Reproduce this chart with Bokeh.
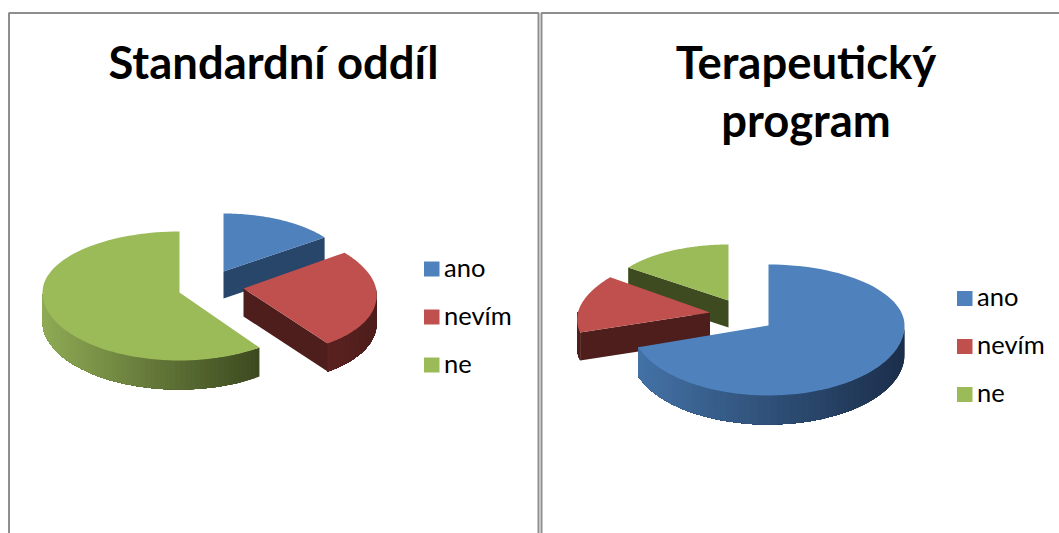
import math
from bokeh.plotting import figure
from bokeh.models import Range1d
from bokeh.core.properties import value
from bokeh.embed import file_html
from bokeh.resources import INLINE

# ---- data -------------------------------------------------------------
categories = ["ano", "nevím", "ne"]
standard_values = [15, 25, 60]      # Standardní oddíl, %
therapy_values = [70, 15, 15]       # Terapeutický program, %
chart_titles = [["Standardní oddíl"], ["Terapeutický", "program"]]

# ---- styles -----------------------------------------------------------
top_colors = ["#4f81bd", "#c0504d", "#9bbb59"]
wall_colors = [("#4472a6", "#1b2f4b"), ("#5a2220", "#4e1e1c"), ("#8fab55", "#3d4a20")]
flat_walls = ["#28456a", "#4e1e1c", "#3e4b20"]
BORDER = "#8e8e8e"
TEXT = "#000000"

# layout of every exploded slice: apex x, y, right/left half-width,
# top/bottom half-height, perspective, thickness (page pixels)
standard_layout = [
    (223, 271, 125, 125, 58, 58, 0.0, 27),
    (243, 288, 132.5, 132.5, 61, 68, 0.10, 28),
    (179, 292, 136, 137, 61, 68, 0.0, 29),
]
therapy_layout = [
    (768, 325, 136, 137, 61, 70, 0.0, 29),
    (709.5, 312, 132, 132, 60, 65, 0.112, 28),
    (728, 300, 124, 124, 56, 56, 0.0, 27),
]
standard_order = [0, 2, 1]
therapy_order = [2, 1, 0]

p = figure(width=1059, height=533, x_range=Range1d(0, 1059), y_range=Range1d(533, 0),
           x_axis_type=None, y_axis_type=None, toolbar_location=None,
           output_backend="svg", min_border=0, outline_line_color=None,
           background_fill_color="white", border_fill_color="white")
p.grid.visible = False


def rim(theta, cfg):
    cx, cy, ar, al, bt, bb, k, _ = cfg
    s, c = math.sin(theta), math.cos(theta)
    a = ar if s >= 0 else al
    b = bt if c >= 0 else bb
    return cx + a * s * (1 - k * c), cy - b * c


def lerp_hex(c1, c2, t):
    t = max(0.0, min(1.0, t))
    v1 = [int(c1[i:i + 2], 16) for i in (1, 3, 5)]
    v2 = [int(c2[i:i + 2], 16) for i in (1, 3, 5)]
    return "#%02x%02x%02x" % tuple(round(a + (b - a) * t) for a, b in zip(v1, v2))


def patch(xs, ys, color):
    p.patch(xs, ys, fill_color=color, line_color=None)


def draw_pie(values, layout, order):
    total = sum(values)
    edges = [0.0]
    for v in values:
        edges.append(edges[-1] + v / total * 2 * math.pi)
    for i in order:
        cfg = layout[i]
        t1, t2 = edges[i], edges[i + 1]
        cx, cy, d = cfg[0], cfg[1], cfg[7]
        # flat cut faces that look toward the viewer
        for t, normal in ((t1, t1 - math.pi / 2), (t2, t2 + math.pi / 2)):
            if math.cos(normal) < -0.05:
                rx, ry = rim(t, cfg)
                patch([cx, rx, rx, cx], [cy, ry, ry + d, cy + d], flat_walls[i])
        # outer wall: overlapping bands so that no seams show between them
        lo, hi = max(t1, math.pi / 2), min(t2, 3 * math.pi / 2)
        if hi > lo:
            n = 60
            ts = [lo + (hi - lo) * j / n for j in range(n + 1)]
            pts = [rim(t, cfg) for t in ts]
            xmin = min(q[0] for q in pts)
            xmax = max(q[0] for q in pts)
            for j in range(n):
                seg = pts[j:]
                mid = (pts[j][0] - xmin) / max(xmax - xmin, 1)
                patch([q[0] for q in seg] + [q[0] for q in reversed(seg)],
                      [q[1] for q in seg] + [q[1] + d for q in reversed(seg)],
                      lerp_hex(wall_colors[i][0], wall_colors[i][1], mid))
        # top face
        n = 90
        top = [rim(t1 + (t2 - t1) * j / n, cfg) for j in range(n + 1)]
        patch([cx] + [q[0] for q in top], [cy] + [q[1] for q in top], top_colors[i])


draw_pie(standard_values, standard_layout, standard_order)
draw_pie(therapy_values, therapy_layout, therapy_order)

# frames of both table cells
for xs, ys in (
    ([8.5, 8.5, 538, 538], [533, 12.5, 12.5, 533]),
    ([541, 541, 1059], [533, 12.5, 12.5]),
):
    p.line(xs, ys, line_color=BORDER, line_width=2)

# titles
FONT = value("Lato")
for lines, cx in zip(chart_titles, (273, 805.5)):
    for j, line in enumerate(lines):
        p.text([cx], [60.5 + 58 * j], text=[line], text_font=FONT, text_font_style="bold",
               text_font_size="45.4px", text_color=TEXT, text_align="center",
               text_baseline="alphabetic")

# legends
for lx, ly0 in ((423.5, 268.5), (956.5, 298)):
    for j, name in enumerate(categories):
        yc = ly0 + 48 * j
        p.quad(left=[lx], right=[lx + 15.5], top=[yc - 7.5], bottom=[yc + 7.5],
               fill_color=top_colors[j], line_color=None)
        p.text([lx + 20], [yc - 2.5], text=[name], text_font=FONT, text_font_size="25.5px",
               text_color=TEXT, text_align="left", text_baseline="alphabetic")

open("out.html", "w").write(file_html(p, INLINE))
